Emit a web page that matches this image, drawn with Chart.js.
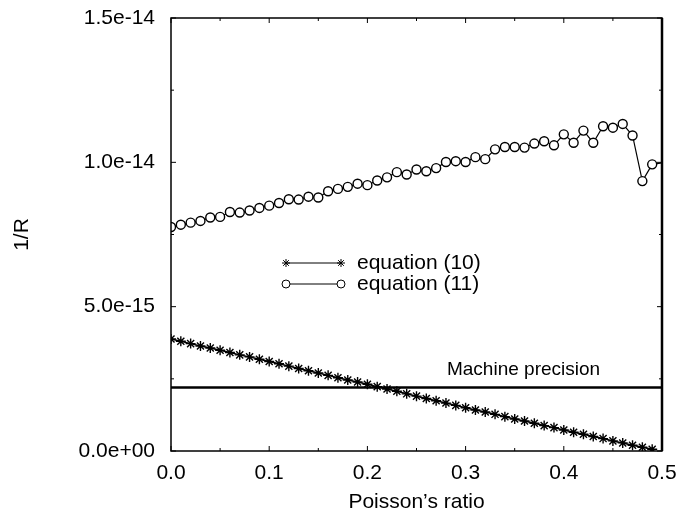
<!DOCTYPE html>
<html>
<head>
<meta charset="utf-8">
<script src="https://cdn.jsdelivr.net/npm/chart.js@4/dist/chart.umd.min.js"></script>
<style>
  html, body { margin: 0; padding: 0; background: #fff; }
  canvas { display: block; }
</style>
</head>
<body>
<canvas id="chart" width="680" height="515"></canvas>
<script>
// Poisson's ratio (x) and 1/R values in units of 1e-15
const ratio = [
  0.00, 0.01, 0.02, 0.03, 0.04, 0.05, 0.06, 0.07, 0.08, 0.09,
  0.10, 0.11, 0.12, 0.13, 0.14, 0.15, 0.16, 0.17, 0.18, 0.19,
  0.20, 0.21, 0.22, 0.23, 0.24, 0.25, 0.26, 0.27, 0.28, 0.29,
  0.30, 0.31, 0.32, 0.33, 0.34, 0.35, 0.36, 0.37, 0.38, 0.39,
  0.40, 0.41, 0.42, 0.43, 0.44, 0.45, 0.46, 0.47, 0.48, 0.49, 0.50
];
// equation (10), stars
const eq10 = [
  3.88, 3.80, 3.72, 3.64, 3.57, 3.49, 3.41, 3.33, 3.26, 3.18,
  3.10, 3.02, 2.94, 2.86, 2.78, 2.70, 2.62, 2.54, 2.46, 2.39,
  2.31, 2.23, 2.15, 2.07, 1.98, 1.90, 1.82, 1.74, 1.66, 1.58,
  1.50, 1.42, 1.35, 1.27, 1.19, 1.11, 1.04, 0.96, 0.88, 0.81,
  0.73, 0.65, 0.58, 0.50, 0.43, 0.35, 0.28, 0.20, 0.13, 0.06
];
// equation (11), circles
const eq11 = [
  7.76, 7.84, 7.91, 7.97, 8.09, 8.11, 8.28, 8.26, 8.33, 8.42,
  8.50, 8.59, 8.72, 8.71, 8.81, 8.78, 9.00, 9.08, 9.15, 9.26,
  9.21, 9.37, 9.48, 9.66, 9.58, 9.75, 9.69, 9.80, 10.01, 10.04,
  10.01, 10.18, 10.11, 10.45, 10.53, 10.53, 10.51, 10.65, 10.73, 10.59,
  10.97, 10.68, 11.10, 10.68, 11.25, 11.20, 11.33, 10.93, 9.35, 9.93, 9.98
];
const machinePrecision = 2.2;
const unit = 1e-15;
const legendLabels = ['equation (10)', 'equation (11)'];

const FONT = "'Liberation Sans', Arial, Helvetica, sans-serif";

function sci(v) {
  return (v * unit).toExponential(1).replace(/e([+-])(\d)$/, 'e$10$2');
}

// cadre, petites graduations, légende, texte "Machine precision"
const decorPlugin = {
  id: 'decor',
  afterDraw(chart) {
    const ctx = chart.ctx;
    const a = chart.chartArea;
    const xs = chart.scales.x;
    const ys = chart.scales.y;
    ctx.save();
    ctx.strokeStyle = '#000';
    ctx.lineWidth = 1.5;
    ctx.strokeRect(a.left, a.top, a.right - a.left, a.bottom - a.top);
    ctx.lineWidth = 2.5;
    ctx.beginPath();
    ctx.moveTo(a.right, a.top);
    ctx.lineTo(a.right, a.bottom);
    ctx.stroke();

    // graduations vers l'intérieur
    ctx.lineWidth = 1;
    ctx.beginPath();
    for (let i = 0; i <= 10; i++) {
      const v = i * 0.05;
      const len = i % 2 === 0 ? 5 : 3;
      const px = xs.getPixelForValue(v);
      ctx.moveTo(px, a.bottom); ctx.lineTo(px, a.bottom - len);
      ctx.moveTo(px, a.top); ctx.lineTo(px, a.top + len);
    }
    for (let i = 0; i <= 6; i++) {
      const v = i * 2.5;
      const len = i % 2 === 0 ? 5 : 3;
      const py = ys.getPixelForValue(v);
      ctx.moveTo(a.left, py); ctx.lineTo(a.left + len, py);
      ctx.moveTo(a.right, py); ctx.lineTo(a.right - len, py);
    }
    ctx.stroke();

    // Machine precision
    ctx.fillStyle = '#000';
    ctx.font = '19px ' + FONT;
    ctx.textAlign = 'center';
    ctx.textBaseline = 'middle';
    ctx.fillText('Machine precision', xs.getPixelForValue(0.359), ys.getPixelForValue(machinePrecision) - 18);

    // légende
    const rows = [
      { y: 263, style: 'star' },
      { y: 284, style: 'circle' }
    ];
    ctx.font = '21px ' + FONT;
    ctx.textAlign = 'left';
    rows.forEach((r, i) => {
      ctx.strokeStyle = '#000';
      ctx.lineWidth = 1;
      ctx.beginPath();
      ctx.moveTo(286, r.y);
      ctx.lineTo(341, r.y);
      ctx.stroke();
      const opts = { pointStyle: r.style, radius: 4, borderWidth: 1.3, rotation: 0 };
      ctx.fillStyle = '#fff';
      ctx.strokeStyle = '#000';
      Chart.helpers.drawPoint(ctx, opts, 286, r.y);
      Chart.helpers.drawPoint(ctx, opts, 341, r.y);
      ctx.fillStyle = '#000';
      ctx.fillText(legendLabels[i], 357, r.y);
    });
    ctx.restore();
  }
};

const config = {
  type: 'line',
  data: {
    datasets: [
      {
        label: legendLabels[0],
        data: eq10.map((v, i) => ({ x: ratio[i], y: v })),
        borderColor: '#000',
        borderWidth: 1.5,
        pointStyle: 'star',
        pointRadius: 5,
        pointBorderWidth: 1.4,
        pointBorderColor: '#000',
        pointBackgroundColor: '#000',
        tension: 0
      },
      {
        label: legendLabels[1],
        data: eq11.map((v, i) => ({ x: ratio[i], y: v })),
        borderColor: '#000',
        borderWidth: 1.2,
        pointStyle: 'circle',
        pointRadius: (c) => (c.dataIndex === eq11.length - 1 ? 0 : 4.5),
        pointBorderWidth: 1.4,
        pointBorderColor: '#000',
        pointBackgroundColor: '#fff',
        tension: 0
      },
      {
        label: 'Machine precision',
        data: [{ x: 0, y: machinePrecision }, { x: 0.5, y: machinePrecision }],
        borderColor: '#000',
        borderWidth: 2.5,
        pointRadius: 0
      }
    ]
  },
  options: {
    responsive: false,
    animation: false,
    layout: { padding: { left: 0, right: 18, top: 18, bottom: 0 } },
    plugins: {
      legend: { display: false },
      tooltip: { enabled: false }
    },
    scales: {
      x: {
        type: 'linear',
        min: 0,
        max: 0.5,
        grid: { display: false, drawTicks: false },
        border: { display: false },
        ticks: {
          stepSize: 0.1,
          padding: 10,
          color: '#000',
          font: { family: FONT, size: 21 },
          callback: (v) => v.toFixed(1)
        },
        title: {
          display: true,
          text: "Poisson’s ratio",
          color: '#000',
          font: { family: FONT, size: 21 },
          padding: { top: 1, bottom: 0 }
        },
        afterFit: (s) => { s.height = 64; s.paddingLeft = 0; s.paddingRight = 0; }
      },
      y: {
        type: 'linear',
        min: 0,
        max: 15,
        grid: { display: false, drawTicks: false },
        border: { display: false },
        ticks: {
          stepSize: 5,
          padding: 16,
          color: '#000',
          font: { family: FONT, size: 21 },
          callback: (v) => sci(v)
        },
        title: {
          display: true,
          text: '1/R',
          color: '#000',
          font: { family: FONT, size: 21 },
          padding: { top: 10, bottom: 0 }
        },
        afterFit: (s) => { s.width = 171; s.paddingTop = 0; s.paddingBottom = 0; }
      }
    }
  },
  plugins: [decorPlugin]
};

const chart = new Chart(document.getElementById('chart'), config);
</script>
</body>
</html>
